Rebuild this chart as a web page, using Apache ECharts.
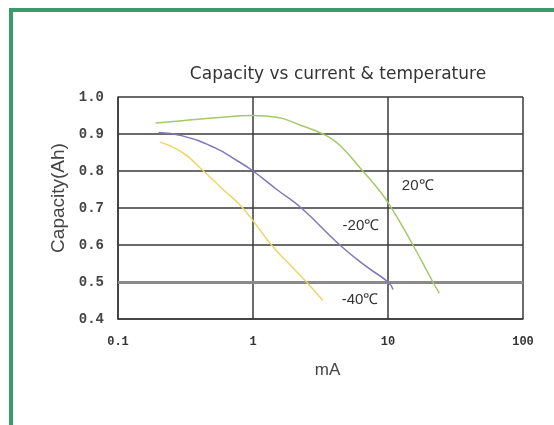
<!DOCTYPE html>
<html>
<head>
<meta charset="utf-8">
<script src="https://cdn.jsdelivr.net/npm/echarts@6/dist/echarts.min.js"></script>
<style>
html,body{margin:0;padding:0;background:#fff;overflow:hidden;}
#chart{position:absolute;left:0;top:0;width:554px;height:425px;}
#frame{position:absolute;left:9px;top:8px;width:600px;height:500px;border:4px solid #3a9a68;box-sizing:border-box;pointer-events:none;}
</style>
</head>
<body>
<div id="chart"></div>
<div id="frame"></div>
<script>
// Data
const titleText = 'Capacity vs current & temperature';
const xTicks = [0.1, 1, 10, 100];
const yTicks = [0.4, 0.5, 0.6, 0.7, 0.8, 0.9, 1.0];
const seriesNames = ['20℃', '-20℃', '-40℃'];
const current20 = [0.19, 0.3, 0.5, 1.0, 1.5, 2.2, 3.3, 4.0, 4.9, 6.5, 8.0, 10.2, 15.3, 21.5, 24];
const capacity20 = [0.93, 0.936, 0.943, 0.95, 0.945, 0.925, 0.9, 0.882, 0.852, 0.8, 0.762, 0.71, 0.6, 0.5, 0.47];
const currentM20 = [0.2, 0.3, 0.52, 0.77, 1.0, 1.5, 2.28, 4.4, 6.9, 10, 10.9];
const capacityM20 = [0.904, 0.895, 0.863, 0.827, 0.8, 0.75, 0.7, 0.6, 0.542, 0.5, 0.48];
const currentM40 = [0.204, 0.3, 0.43, 0.6, 0.84, 1.37, 1.84, 2.49, 3.3];
const capacityM40 = [0.878, 0.85, 0.8, 0.75, 0.7, 0.6, 0.55, 0.5, 0.45];
// annotation anchors (current, capacity)
const labelAnchors = [[16.6, 0.76], [6.3, 0.653], [6.2, 0.452]];

const colors = ['#a3c96b', '#8078b8', '#f0d466'];
const zip = (xs, ys) => xs.map((x, i) => [x, ys[i]]);
const dataSets = [zip(current20, capacity20), zip(currentM20, capacityM20), zip(currentM40, capacityM40)];

const chart = echarts.init(document.getElementById('chart'));
const gridColor = '#3a3a3a';
const series = dataSets.map((d, i) => ({
  name: seriesNames[i],
  type: 'line',
  data: d,
  smooth: 0.5,
  showSymbol: false,
  symbol: 'none',
  lineStyle: { color: colors[i], width: 1.5 },
  z: 5,
  markPoint: {
    symbol: 'rect', symbolSize: 1,
    itemStyle: { color: 'rgba(0,0,0,0)' },
    label: { show: true, formatter: seriesNames[i], color: '#333', fontSize: 15, fontFamily: 'Liberation Sans', position: 'inside' },
    data: [{ coord: labelAnchors[i] }]
  }
}));
series.push({
  type: 'line', data: [], silent: true,
  markLine: {
    silent: true, symbol: 'none', label: { show: false },
    lineStyle: { color: '#8a8a8a', width: 3, type: 'solid' },
    data: [{ yAxis: 0.5 }]
  }
});

chart.setOption({
  backgroundColor: '#ffffff',
  animation: false,
  title: {
    text: titleText,
    left: 333, top: 61, textAlign: 'center',
    textStyle: { fontSize: 17, fontWeight: 'normal', color: '#333', fontFamily: 'DejaVu Sans' }
  },
  grid: { left: 118, right: 31, top: 97, bottom: 106 },
  xAxis: {
    type: 'log', logBase: 10, min: xTicks[0], max: xTicks[xTicks.length - 1],
    name: 'mA', nameLocation: 'middle', nameGap: 43,
    nameTextStyle: { fontSize: 17, color: '#444', fontFamily: 'Liberation Sans', padding: [0, 0, 0, 14] },
    axisLine: { lineStyle: { color: gridColor, width: 1.5 } },
    axisTick: { show: false },
    minorTick: { show: false },
    axisLabel: { margin: 17, fontSize: 12, fontWeight: 'bold', color: '#333', fontFamily: 'Liberation Mono',
      formatter: v => String(+v.toPrecision(3)) },
    splitLine: { show: true, lineStyle: { color: gridColor, width: 1.5 } }
  },
  yAxis: {
    type: 'value', min: yTicks[0], max: yTicks[yTicks.length - 1], interval: 0.1,
    name: 'Capacity(Ah)', nameLocation: 'middle', nameGap: 46,
    nameTextStyle: { fontSize: 19, color: '#444', fontFamily: 'Liberation Sans', padding: [0, 0, 0, 20] },
    axisLine: { show: true, lineStyle: { color: gridColor, width: 1.5 } },
    axisTick: { show: false },
    axisLabel: { margin: 14, fontSize: 14, fontWeight: 'bold', color: '#444', fontFamily: 'Liberation Mono',
      formatter: v => v.toFixed(1) },
    splitLine: { show: true, lineStyle: { color: gridColor, width: 1.5 } }
  },
  series: series
});
</script>
</body>
</html>
